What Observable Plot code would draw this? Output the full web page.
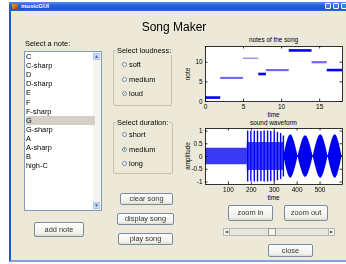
<!DOCTYPE html>
<html><head><meta charset="utf-8">
<script src="https://cdn.jsdelivr.net/npm/d3@7"></script>
<script src="https://cdn.jsdelivr.net/npm/@observablehq/plot@0.6"></script>
<style>
html,body{margin:0;padding:0;background:#fff;}
body{width:346px;height:264px;position:relative;overflow:hidden;font-family:"Liberation Sans",Arial,sans-serif;color:#000;-webkit-font-smoothing:antialiased;}
.a{position:absolute;}
#win{left:9px;top:2px;width:340px;height:258px;background:#ECE9D8;border-left:2px solid #1d55d8;border-bottom:2px solid #86a0e2;}
#titlebar{left:9px;top:2px;width:340px;height:9px;background:linear-gradient(#5b90f2,#2462e0 35%,#1b55d6 75%,#2a63dc);}
#tbtext{left:21px;top:2px;font-size:6px;line-height:9px;font-weight:bold;color:#fff;}
#icon{left:12px;top:4px;width:6px;height:5px;background:linear-gradient(135deg,#f0a020,#c03010);}
.tbb{top:3px;width:6px;height:6px;border:1px solid #fff;border-radius:1px;background:#3b7cf0;box-sizing:border-box;}
.txt{position:absolute;font-size:7.4px;line-height:9px;white-space:nowrap;will-change:transform;}
#list{left:24px;top:51px;width:78px;height:160px;background:#fff;border:1px solid #7f9db9;box-sizing:border-box;overflow:hidden;will-change:transform;}
.item{position:absolute;left:1px;width:69px;height:9.1px;font-size:7.4px;line-height:9.1px;}
.sel{background:#d4d0c8;}
#sb{right:0;top:0;width:8px;height:100%;background:#f5f4ef;}
.sbb{position:absolute;left:0;width:7px;height:7px;background:#c9d8fc;border:1px solid #b3c6f2;box-sizing:border-box;font-size:5px;line-height:5px;text-align:center;color:#4d6185;}
.grp{position:absolute;border:1px solid #c5c2b2;border-radius:2px;box-sizing:border-box;}
.gt{position:absolute;background:#ECE9D8;font-size:7.4px;line-height:9px;padding:0 1px;white-space:nowrap;will-change:transform;}
.rad{position:absolute;width:5px;height:5px;border:1px solid #6d87a8;border-radius:50%;background:#fff;box-sizing:border-box;}
.rad.on::after{content:"";position:absolute;left:0.8px;top:0.8px;width:1.4px;height:1.4px;border-radius:50%;background:#2aa12a;}
.btn{position:absolute;border:1px solid #7c8ba3;border-radius:2px;background:linear-gradient(#fefefe,#f1f0ea 80%,#dcdbd2);box-sizing:border-box;font-size:7.4px;color:#333;text-align:center;white-space:nowrap;will-change:transform;}
.lab{position:absolute;font-size:6.4px;line-height:8px;white-space:nowrap;transform:translate(-50%,-50%);}
.rot{transform:translate(-50%,-50%) rotate(-90deg);}
svg{position:absolute;overflow:visible;}
</style></head>
<body>
<div id="win" class="a"></div>
<div id="titlebar" class="a"></div>
<div id="icon" class="a"></div>
<div id="tbtext" class="a">musicGUI</div>
<div class="a tbb" style="left:325px"></div>
<div class="a tbb" style="left:333px"></div>
<div class="a tbb" style="left:341px"></div>
<div class="a" style="left:120px;top:20px;width:108px;text-align:center;font-size:12px;line-height:14px;will-change:transform;">Song Maker</div>
<div class="txt" style="left:25px;top:39px;">Select a note:</div>
<div id="list" class="a"><div id="sb" class="a"><div class="sbb" style="top:1px">&#9650;</div><div class="sbb" style="bottom:1px">&#9660;</div></div></div>

<div class="grp" style="left:113px;top:50px;width:59px;height:56px;"></div>
<div class="gt" style="left:116px;top:45.5px;">Select loudness:</div>
<div class="grp" style="left:113px;top:122px;width:60px;height:52px;"></div>
<div class="gt" style="left:116px;top:117.5px;">Select duration:</div>
<div id="radios"></div>
<div id="buttons"></div>

<div class="a" style="left:223px;top:228px;width:112px;height:8px;background:#e6e6e2;border:1px solid #b8b8b0;box-sizing:border-box;"></div>
<div class="a" style="left:223px;top:228px;width:7px;height:8px;background:#f4f4f0;border:1px solid #b8b8b0;box-sizing:border-box;font-size:4px;line-height:6px;text-align:center;color:#555;">&#9664;</div>
<div class="a" style="left:328px;top:228px;width:7px;height:8px;background:#f4f4f0;border:1px solid #b8b8b0;box-sizing:border-box;font-size:4px;line-height:6px;text-align:center;color:#555;">&#9654;</div>
<div class="a" style="left:268px;top:228px;width:8px;height:8px;background:#f4f4f0;border:1px solid #9a9a92;box-sizing:border-box;"></div>

<div class="lab" style="left:273.5px;top:40px;">notes of the song</div>
<div class="lab" style="left:273.5px;top:115px;">time</div>
<div class="lab rot" style="left:188px;top:73.5px;">note</div>
<div class="lab" style="left:273.5px;top:123px;">sound waveform</div>
<div class="lab" style="left:273.5px;top:198px;">time</div>
<div class="lab rot" style="left:188px;top:156px;">amplitude</div>

<script>
// ---- GUI texts ----
const noteNames = ["C","C-sharp","D","D-sharp","E","F","F-sharp","G","G-sharp","A","A-sharp","B","high-C"];
const selectedNote = "G";
const loudnessOptions = ["soft","medium","loud"];
const selectedLoudness = "loud";
const durationOptions = ["short","medium","long"];
const selectedDuration = "medium";

// ---- notes of the song ----
const noteStart = [0, 2, 5, 7, 8, 11, 14, 16];
const noteEnd   = [2, 5, 7, 8, 11, 14, 16, 18];
const noteValue = [1, 6, 11, 7, 8, 13, 10, 8];
const noteLoud  = ["loud","medium","soft","loud","medium","loud","medium","loud"];
const noteXTicks = [0, 5, 10, 15];
const noteYTicks = [0, 5, 10];

// ---- sound waveform (envelope) ----
const bandX = [0, 182, 182, 342, 342, 598];
const bandA = [0.32, 0.32, 0.55, 0.55, 0.04, 0.04];
const spikeX = [184, 198, 213, 227, 242, 256, 271, 285, 300, 314, 328, 340];
const spikeA = [1.0, 0.98, 1.0, 1.0, 0.98, 1.0, 1.0, 0.98, 1.0, 0.95, 0.9, 0.8];
const lobeStart = [342, 404, 470, 535];
const lobePeak  = [372, 437, 503, 566];
const lobeEnd   = [404, 470, 535, 596];
const lobeA     = [0.85, 0.82, 0.85, 0.85];
const waveXTicks = [100, 200, 300, 400, 500];
const waveYTicks = [-1, -0.5, 0, 0.5, 1];

// ---- build GUI ----
const list = document.getElementById("list");
noteNames.forEach((n, i) => {
  const d = document.createElement("div");
  d.className = "item" + (n === selectedNote ? " sel" : "");
  d.style.top = (i * 9.1) + "px";
  d.textContent = n;
  list.appendChild(d);
});
const radios = document.getElementById("radios");
function addRadios(opts, sel, y0) {
  opts.forEach((o, i) => {
    const cy = y0 + i * 14.5;
    const r = document.createElement("div");
    r.className = "rad" + (o === sel ? " on" : "");
    r.style.left = "122px"; r.style.top = (cy - 2.5) + "px";
    radios.appendChild(r);
    const t = document.createElement("div");
    t.className = "txt"; t.style.left = "128.5px"; t.style.top = (cy - 4.5) + "px";
    t.textContent = o;
    radios.appendChild(t);
  });
}
addRadios(loudnessOptions, selectedLoudness, 64.5);
addRadios(durationOptions, selectedDuration, 134.5);

const btns = [
  ["add note", 34, 222, 50, 15],
  ["clear song", 120, 193, 53, 12],
  ["display song", 117, 213, 57, 12],
  ["play song", 118, 233, 55, 12],
  ["zoom in", 228, 205, 45, 16],
  ["zoom out", 284, 205, 44, 16],
  ["close", 268, 244, 45, 13]
];
const bdiv = document.getElementById("buttons");
btns.forEach(([t, x, y, w, h]) => {
  const b = document.createElement("div");
  b.className = "btn";
  Object.assign(b.style, {left: x + "px", top: y + "px", width: w + "px", height: h + "px", lineHeight: (h - 2) + "px"});
  b.textContent = t;
  bdiv.appendChild(b);
});

// ---- plots ----
const font = {fontFamily: "'Liberation Sans', Arial, sans-serif", fontSize: "6.4px", background: "transparent", overflow: "visible"};
const loudColor = {loud: "#0000ff", medium: "#6c6cea", soft: "#9d9de6"};
const loudWidth = {loud: 2.6, medium: 2.2, soft: 1.6};
const fmt = d => String(d);
const tl = 2.5;

function innerTicks(xt, yt, fw, fh) {
  return [
    Plot.ruleX(xt, {x: d => d, insetTop: fh - tl, stroke: "black", strokeWidth: 0.8}),
    Plot.ruleX(xt, {x: d => d, insetBottom: fh - tl, stroke: "black", strokeWidth: 0.8}),
    Plot.ruleY(yt, {y: d => d, insetRight: fw - tl, stroke: "black", strokeWidth: 0.8}),
    Plot.ruleY(yt, {y: d => d, insetLeft: fw - tl, stroke: "black", strokeWidth: 0.8})
  ];
}

const notesTable = noteStart.map((s, i) => ({start: s, end: noteEnd[i], note: noteValue[i], loud: noteLoud[i]}));
const top1 = Plot.plot({
  width: 166, height: 92, marginLeft: 25, marginRight: 4, marginTop: 12, marginBottom: 25,
  x: {domain: [0, 18]}, y: {domain: [0, 14]},
  color: {type: "identity"},
  style: font,
  marks: [
    Plot.frame({fill: "white"}),
    Plot.ruleY(notesTable, {y: "note", x1: "start", x2: "end", stroke: d => loudColor[d.loud], strokeWidth: d => loudWidth[d.loud]}),
    ...innerTicks(noteXTicks, noteYTicks, 137, 55),
    Plot.axisX({ticks: noteXTicks, tickSize: 0, tickPadding: 3, tickFormat: fmt, label: null}),
    Plot.axisY({ticks: noteYTicks, tickSize: 0, tickPadding: 3, tickFormat: fmt, label: null}),
    Plot.frame({stroke: "black", strokeWidth: 0.8})
  ]
});
top1.style.left = "180px"; top1.style.top = "34px";
document.body.appendChild(top1);

const band = bandX.map((x, i) => ({x, a: bandA[i]}));
const spikes = spikeX.map((x, i) => ({x, a: spikeA[i]}));
const lobes = lobeStart.flatMap((s, i) => [
  {k: i, x: s, a: 0}, {k: i, x: lobePeak[i], a: lobeA[i]}, {k: i, x: lobeEnd[i], a: 0}
]);
const bot = Plot.plot({
  width: 166, height: 86, marginLeft: 25, marginRight: 4, marginTop: 8, marginBottom: 22,
  x: {domain: [0, 598]}, y: {domain: [-1.1, 1.1]},
  style: font,
  marks: [
    Plot.frame({fill: "white"}),
    Plot.areaY(band, {x: "x", y1: d => -d.a, y2: d => d.a, fill: "#1f1ff2", fillOpacity: 0.88}),
    Plot.ruleX(spikes, {x: "x", y1: d => -d.a, y2: d => d.a, stroke: "#0000ff", strokeWidth: 1.4}),
    Plot.areaY(lobes, {x: "x", y1: d => -d.a, y2: d => d.a, z: "k", curve: "natural", fill: "#0000f0"}),
    ...innerTicks(waveXTicks, waveYTicks, 137, 56),
    Plot.axisX({ticks: waveXTicks, tickSize: 0, tickPadding: 3, tickFormat: fmt, label: null}),
    Plot.axisY({ticks: waveYTicks, tickSize: 0, tickPadding: 3, tickFormat: fmt, label: null}),
    Plot.frame({stroke: "black", strokeWidth: 0.8})
  ]
});
bot.style.left = "180px"; bot.style.top = "120px";
document.body.appendChild(bot);
</script>
</body></html>
